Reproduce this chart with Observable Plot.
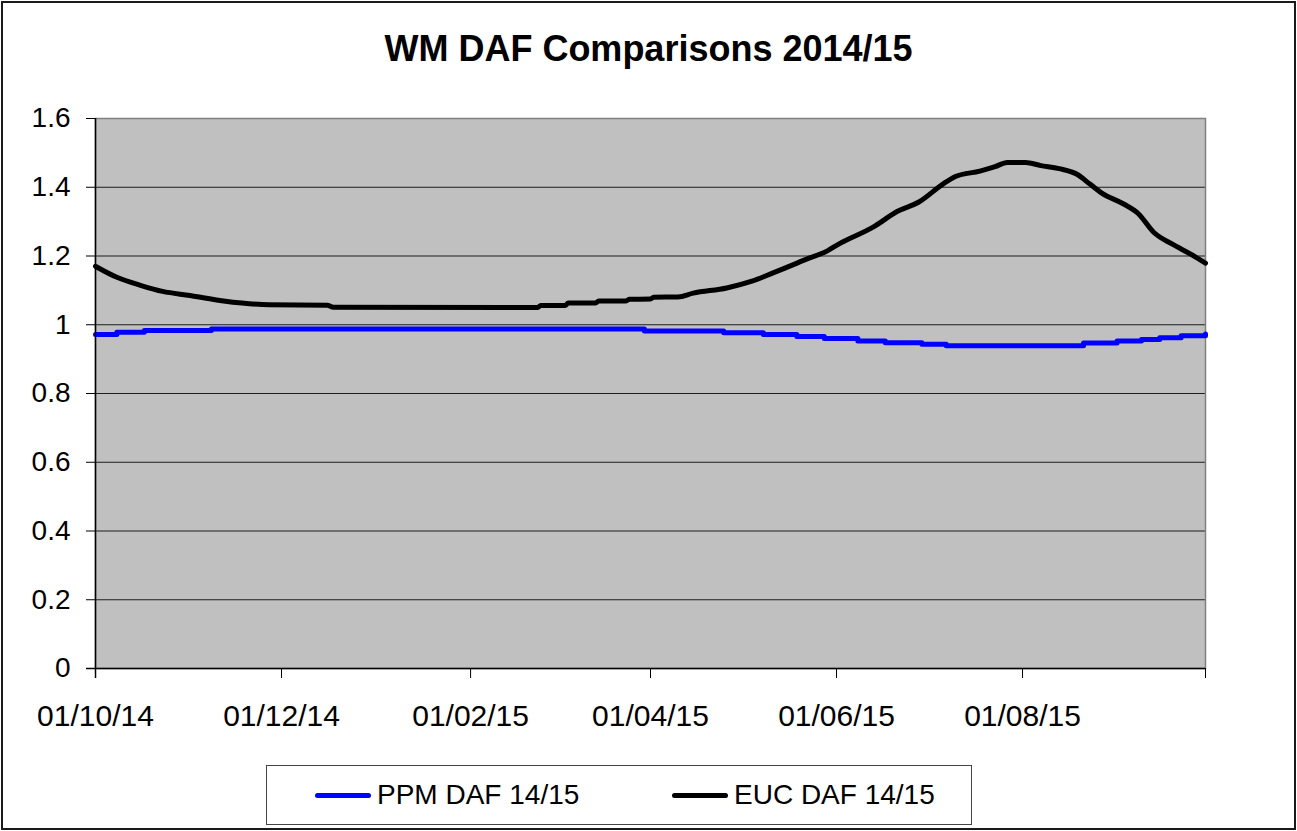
<!DOCTYPE html>
<html>
<head>
<meta charset="utf-8">
<script src="https://cdn.jsdelivr.net/npm/d3@7"></script>
<script src="https://cdn.jsdelivr.net/npm/@observablehq/plot@0.6"></script>
<style>
  html, body { margin: 0; padding: 0; background: #fff; }
  body { width: 1297px; height: 831px; position: relative; overflow: hidden; font-family: "Liberation Sans", Arial, sans-serif; }
  #border { position: absolute; left: 1px; top: 1px; width: 1291px; height: 825px; border: 2px solid #1a1a1a; }
  #title { position: absolute; left: 0; top: 31px; width: 1297px; text-align: center; font-weight: bold; font-size: 36px; line-height: 36px; color: #000; }
  #chart { position: absolute; left: 0; top: 0; }
  #legend { position: absolute; left: 266px; top: 765px; width: 704px; height: 58px; border: 1.5px solid #444; background: #fff; }
  .item { position: absolute; top: 0; height: 58px; display: flex; align-items: center; font-size: 28px; color: #000; }
  .sw { display: inline-block; width: 56px; height: 5px; border-radius: 3px; margin-right: 6px; }
</style>
</head>
<body>
<div id="border"></div>
<div id="title">WM DAF Comparisons 2014/15</div>
<div id="chart"></div>
<div id="legend"></div>
<script>
// ---- data ----
const seriesNames = ["PPM DAF 14/15", "EUC DAF 14/15"];
const seriesColors = ["#0000ff", "#000000"];

// PPM DAF: step values (value holds from the date onward)
const ppmDates = ["2014-10-01","2014-10-08","2014-10-17","2014-11-08","2015-03-30","2015-04-25","2015-05-08","2015-05-19","2015-05-28","2015-06-08","2015-06-17","2015-06-29","2015-07-07","2015-08-21","2015-09-01","2015-09-09","2015-09-15","2015-09-22","2015-09-29","2015-09-30"];
const ppmValues = [0.972,0.978,0.983,0.988,0.982,0.977,0.972,0.966,0.960,0.953,0.948,0.943,0.939,0.947,0.953,0.957,0.962,0.968,0.968,0.973];

// EUC DAF
const eucDates = ["2014-10-01","2014-10-02","2014-10-08","2014-10-16","2014-10-23","2014-11-01","2014-11-12","2014-11-18","2014-11-27","2014-12-16","2014-12-18","2015-02-23","2015-02-24","2015-03-04","2015-03-05","2015-03-14","2015-03-15","2015-03-24","2015-03-25","2015-04-01","2015-04-02","2015-04-10","2015-04-15","2015-04-26","2015-05-04","2015-05-11","2015-05-22","2015-05-29","2015-06-02","2015-06-13","2015-06-21","2015-06-28","2015-07-06","2015-07-10","2015-07-18","2015-07-23","2015-07-27","2015-08-02","2015-08-07","2015-08-13","2015-08-19","2015-08-23","2015-08-27","2015-09-03","2015-09-08","2015-09-13","2015-09-19","2015-09-25","2015-09-30"];
const eucValues = [1.170,1.165,1.138,1.114,1.097,1.085,1.069,1.063,1.058,1.057,1.051,1.050,1.056,1.056,1.063,1.063,1.069,1.069,1.074,1.075,1.080,1.081,1.092,1.107,1.126,1.150,1.190,1.215,1.236,1.284,1.330,1.357,1.410,1.431,1.447,1.460,1.472,1.472,1.463,1.454,1.437,1.410,1.383,1.352,1.323,1.269,1.235,1.206,1.179];

// axes
const yTicks = [0, 0.2, 0.4, 0.6, 0.8, 1, 1.2, 1.4, 1.6];
const yTickLabels = ["0", "0.2", "0.4", "0.6", "0.8", "1", "1.2", "1.4", "1.6"];
const xTickDates = ["2014-10-01","2014-12-01","2015-02-01","2015-04-01","2015-06-01","2015-08-01","2015-09-30"];
const xTickLabels = ["01/10/14","01/12/14","01/02/15","01/04/15","01/06/15","01/08/15",""];
const xDomain = ["2014-10-01", "2015-09-30"];

// ---- build ----
const parse = s => new Date(s + "T00:00:00Z");
const ppm = ppmDates.map((d, i) => ({date: parse(d), v: ppmValues[i]}));
const euc = eucDates.map((d, i) => ({date: parse(d), v: eucValues[i]}));
const xTicks = xTickDates.map(parse);
const xLabelMap = new Map(xTicks.map((d, i) => [+d, xTickLabels[i]]));
const x0 = parse(xDomain[0]);

const chart = Plot.plot({
  width: 1297,
  height: 760,
  marginLeft: 95,
  marginRight: 92,
  marginTop: 118,
  marginBottom: 92,
  style: {fontFamily: "'Liberation Sans', Arial, sans-serif", background: "transparent", overflow: "visible", color: "#000"},
  x: {type: "utc", domain: xDomain.map(parse)},
  y: {domain: [0, 1.6]},
  marks: [
    Plot.frame({fill: "#c0c0c0"}),
    Plot.ruleY(yTicks.slice(1), {stroke: "#000", strokeWidth: 1, strokeOpacity: 0.85}),
    Plot.frame({stroke: "#808080", strokeWidth: 1.5}),
    Plot.line(ppm, {x: "date", y: "v", stroke: seriesColors[0], strokeWidth: 5, curve: "step-after"}),
    Plot.line(euc, {x: "date", y: "v", stroke: seriesColors[1], strokeWidth: 5, curve: "monotone-x"}),
    Plot.ruleX([x0], {stroke: "#000", strokeWidth: 1.5, insetBottom: -10}),
    Plot.ruleY([0], {stroke: "#000", strokeWidth: 1.5, insetLeft: -9}),
    Plot.axisY({ticks: yTicks, tickSize: 9, tickPadding: 16, fontSize: 28, tickFormat: d => yTickLabels[yTicks.indexOf(d)], label: null}),
    Plot.axisX({ticks: xTicks, tickSize: 10, tickPadding: 26, fontSize: 30, tickFormat: d => xLabelMap.get(+d) ?? "", label: null})
  ]
});
document.getElementById("chart").appendChild(chart);

// legend
const legend = document.getElementById("legend");
const lefts = [48, 405];
seriesNames.forEach((name, i) => {
  const it = document.createElement("div");
  it.className = "item";
  it.style.left = lefts[i] + "px";
  it.innerHTML = `<span class="sw" style="background:${seriesColors[i]}"></span><span>${name}</span>`;
  legend.appendChild(it);
});
</script>
</body>
</html>
